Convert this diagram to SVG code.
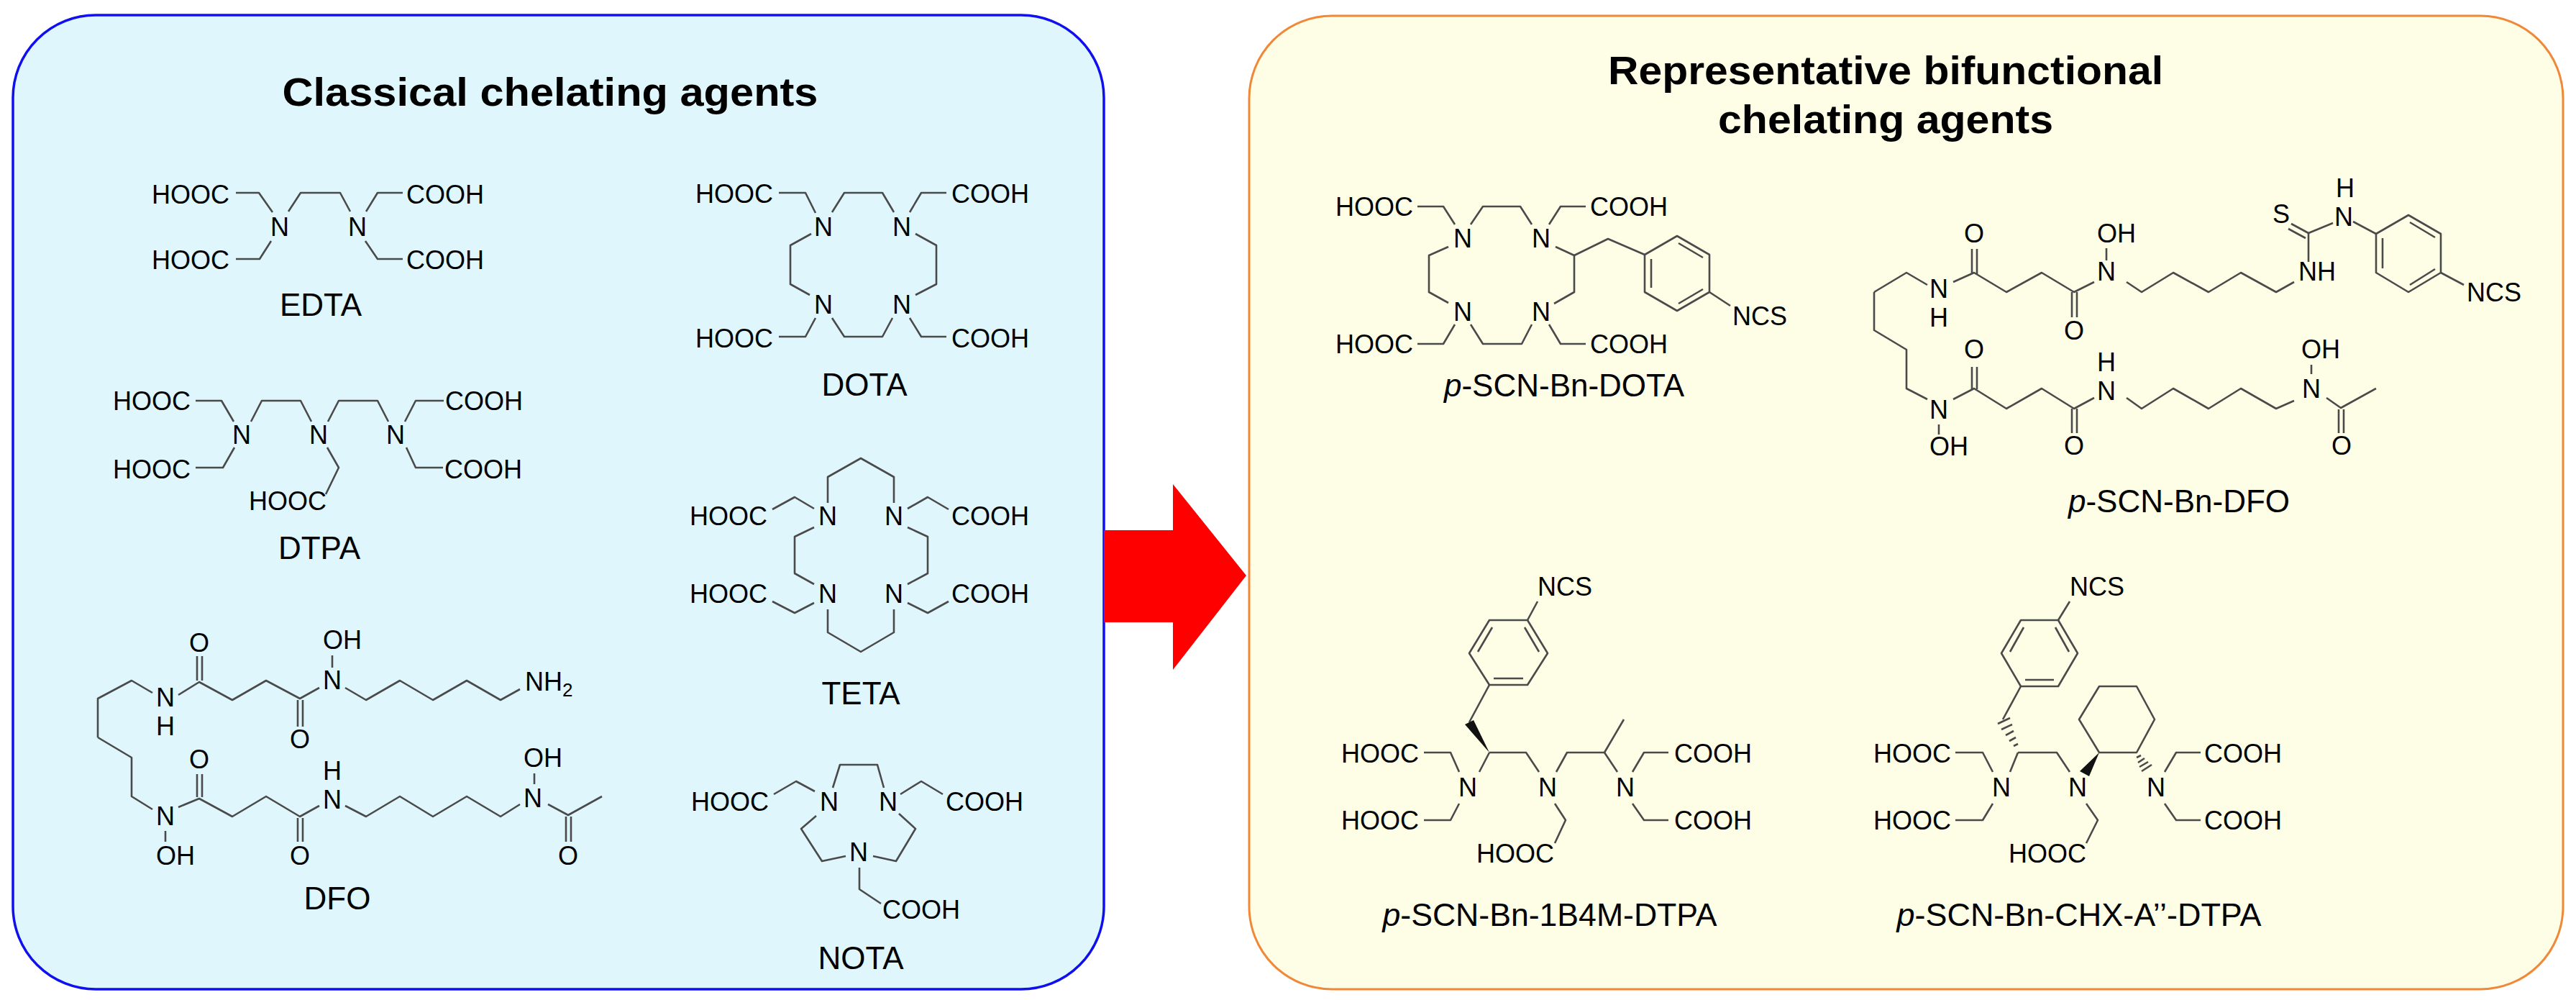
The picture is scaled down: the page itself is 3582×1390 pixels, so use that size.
<svg xmlns="http://www.w3.org/2000/svg" width="3582" height="1390" viewBox="0 0 3582 1390">
<style>
.b{fill:none;stroke:#4a4a4a;stroke-width:2.6;stroke-linejoin:round}
text{font-family:"Liberation Sans",Arial,sans-serif;fill:#000}
.t{font-size:36px}
.m{text-anchor:middle}
.l{font-size:44px;text-anchor:middle}
.h{font-size:56px;font-weight:bold;text-anchor:middle}
.w{fill:#111}
</style>
<rect width="3582" height="1390" fill="#fff"/>
<g id="panel-classical">
<rect x="18" y="21" width="1517" height="1354" rx="115" ry="115" fill="#dff6fc" stroke="#1010ee" stroke-width="3.5"/>
<text class="h" x="765" y="147" textLength="745" lengthAdjust="spacingAndGlyphs">Classical  chelating  agents</text>
</g>
<g id="panel-bifunctional">
<rect x="1737" y="22" width="1827" height="1353" rx="115" ry="115" fill="#fefee6" stroke="#f08838" stroke-width="3"/>
<text class="h" x="2622" y="117" textLength="772" lengthAdjust="spacingAndGlyphs">Representative  bifunctional</text>
<text class="h" x="2622" y="185" textLength="466" lengthAdjust="spacingAndGlyphs">chelating  agents</text>
</g>
<g id="connectors">
<polygon points="1535,737 1631,737 1631,673 1733,800 1631,931 1631,865 1535,865" fill="#ff0000"/>
</g>
<g id="EDTA">
<polyline class="b" points="328,268 360,268 379,295"/>
<polyline class="b" points="401,294 418,268 473,268 487,294"/>
<polyline class="b" points="509,294 525,268 560,268"/>
<polyline class="b" points="328,360 361,360 377,335"/>
<polyline class="b" points="508,335 525,360 560,360"/>
<text class="t" x="211" y="283">HOOC</text><text class="t" x="565" y="283">COOH</text>
<text class="t" x="211" y="374">HOOC</text><text class="t" x="565" y="374">COOH</text>
<text class="t m" x="389" y="328">N</text><text class="t m" x="497" y="328">N</text>
<text class="l" x="446" y="439">EDTA</text>
</g>
<g id="DTPA">
<polyline class="b" points="272,557 308,557 325,586"/>
<polyline class="b" points="349,586 364,557 418,557 433,586"/>
<polyline class="b" points="456,586 471,557 525,557 540,586"/>
<polyline class="b" points="563,586 578,557 617,557"/>
<polyline class="b" points="272,650 310,650 326,622"/>
<polyline class="b" points="455,622 471,650 453,687"/>
<polyline class="b" points="565,622 578,650 616,650"/>
<text class="t" x="157" y="570">HOOC</text><text class="t" x="619" y="570">COOH</text>
<text class="t" x="157" y="665">HOOC</text><text class="t" x="618" y="665">COOH</text>
<text class="t" x="346" y="709">HOOC</text>
<text class="t m" x="336" y="617">N</text><text class="t m" x="443" y="617">N</text><text class="t m" x="550" y="617">N</text>
<text class="l" x="444" y="777">DTPA</text>
</g>
<g id="DFO">
<polyline class="b" points="136,1025 136,971 183,946 212,963"/>
<polyline class="b" points="248,966 277,948 323,973 370,946 417,971 444,956"/>
<polyline class="b" points="480,956 509,973 556,946 602,973 649,946 696,973 723,958"/>
<line class="b" x1="274" y1="946" x2="274" y2="912"/><line class="b" x1="281" y1="946" x2="281" y2="912"/>
<line class="b" x1="414" y1="973" x2="414" y2="1010"/><line class="b" x1="421" y1="973" x2="421" y2="1010"/>
<line class="b" x1="462" y1="911" x2="462" y2="928"/>
<polyline class="b" points="136,1025 183,1053 183,1107 212,1125"/>
<polyline class="b" points="248,1122 277,1110 323,1135 370,1107 417,1135 444,1120"/>
<polyline class="b" points="480,1120 509,1135 556,1107 602,1135 649,1107 696,1135 723,1118"/>
<line class="b" x1="274" y1="1108" x2="274" y2="1076"/><line class="b" x1="281" y1="1108" x2="281" y2="1076"/>
<line class="b" x1="414" y1="1137" x2="414" y2="1170"/><line class="b" x1="421" y1="1137" x2="421" y2="1170"/>
<line class="b" x1="230" y1="1155" x2="230" y2="1170"/>
<line class="b" x1="743" y1="1075" x2="743" y2="1090"/>
<polyline class="b" points="762,1118 790,1133 837,1107"/>
<line class="b" x1="787" y1="1135" x2="787" y2="1170"/><line class="b" x1="794" y1="1135" x2="794" y2="1170"/>
<text class="t m" x="230" y="982">N</text><text class="t m" x="230" y="1022">H</text>
<text class="t m" x="277" y="906">O</text><text class="t m" x="417" y="1040">O</text>
<text class="t m" x="462" y="958">N</text><text class="t" x="449" y="902">OH</text>
<text class="t" x="730" y="960">NH<tspan font-size="26" dy="8">2</tspan></text>
<text class="t m" x="230" y="1147">N</text><text class="t" x="217" y="1202">OH</text>
<text class="t m" x="277" y="1068">O</text><text class="t m" x="417" y="1202">O</text>
<text class="t m" x="462" y="1124">N</text><text class="t m" x="462" y="1084">H</text>
<text class="t m" x="741" y="1122">N</text><text class="t" x="728" y="1066">OH</text>
<text class="t m" x="790" y="1202">O</text>
<text class="l" x="469" y="1264">DFO</text>
</g>
<g id="DOTA">
<polyline class="b" points="1083,268 1120,268 1134,296"/>
<polyline class="b" points="1157,295 1174,268 1227,268 1243,295"/>
<polyline class="b" points="1265,295 1281,268 1316,268"/>
<polyline class="b" points="1128,325 1099,341 1099,395 1126,410"/>
<polyline class="b" points="1273,325 1302,341 1302,395 1273,410"/>
<polyline class="b" points="1157,442 1174,468 1227,468 1241,442"/>
<polyline class="b" points="1134,442 1120,468 1083,468"/>
<polyline class="b" points="1265,442 1281,468 1316,468"/>
<text class="t" x="967" y="282">HOOC</text><text class="t" x="1323" y="282">COOH</text>
<text class="t" x="967" y="483">HOOC</text><text class="t" x="1323" y="483">COOH</text>
<text class="t m" x="1145" y="328">N</text><text class="t m" x="1254" y="328">N</text>
<text class="t m" x="1145" y="436">N</text><text class="t m" x="1254" y="436">N</text>
<text class="l" x="1202" y="550">DOTA</text>
</g>
<g id="TETA">
<polyline class="b" points="1151,699 1151,663 1197,637 1243,663 1243,699"/>
<polyline class="b" points="1074,708 1105,691 1132,707"/>
<polyline class="b" points="1262,707 1290,691 1319,708"/>
<polyline class="b" points="1132,733 1105,746 1105,797 1132,812"/>
<polyline class="b" points="1262,733 1290,746 1290,797 1262,812"/>
<polyline class="b" points="1074,836 1105,852 1132,838"/>
<polyline class="b" points="1262,838 1290,852 1319,836"/>
<polyline class="b" points="1151,847 1151,879 1197,906 1243,879 1243,847"/>
<text class="t" x="959" y="730">HOOC</text><text class="t" x="1323" y="730">COOH</text>
<text class="t" x="959" y="838">HOOC</text><text class="t" x="1323" y="838">COOH</text>
<text class="t m" x="1151" y="730">N</text><text class="t m" x="1243" y="730">N</text>
<text class="t m" x="1151" y="838">N</text><text class="t m" x="1243" y="838">N</text>
<text class="l" x="1197" y="979">TETA</text>
</g>
<g id="NOTA">
<polyline class="b" points="1076,1104 1107,1086 1133,1100"/>
<polyline class="b" points="1158,1095 1168,1063 1220,1063 1229,1095"/>
<polyline class="b" points="1252,1104 1281,1086 1311,1104"/>
<polyline class="b" points="1135,1134 1114,1152 1143,1197 1176,1190"/>
<polyline class="b" points="1250,1131 1273,1152 1246,1197 1214,1190"/>
<polyline class="b" points="1195,1206 1195,1236 1225,1256"/>
<text class="t" x="961" y="1127">HOOC</text><text class="t" x="1315" y="1127">COOH</text>
<text class="t m" x="1153" y="1127">N</text><text class="t m" x="1235" y="1127">N</text>
<text class="t m" x="1194" y="1197">N</text>
<text class="t" x="1227" y="1277">COOH</text>
<text class="l" x="1197" y="1347">NOTA</text>
</g>
<g id="p-SCN-Bn-DOTA">
<polyline class="b" points="1971,287 2007,287 2023,312"/>
<polyline class="b" points="2045,312 2062,287 2114,287 2130,312"/>
<polyline class="b" points="2154,312 2170,287 2205,287"/>
<polyline class="b" points="2014,343 1987,355 1987,406 2014,421"/>
<polyline class="b" points="2163,343 2189,355 2189,406 2161,422"/>
<polyline class="b" points="2189,355 2236,332 2287,354"/>
<polyline class="b" points="2045,451 2062,478 2116,478 2130,451"/>
<polyline class="b" points="2023,451 2007,478 1971,478"/>
<polyline class="b" points="2154,451 2170,478 2205,478"/>
<polygon class="b" points="2332,328 2377,354 2377,406 2332,432 2287,406 2287,354"/>
<line class="b" x1="2296" y1="360" x2="2296" y2="400"/>
<line class="b" x1="2334" y1="338" x2="2368" y2="358"/>
<line class="b" x1="2368" y1="402" x2="2334" y2="422"/>
<line class="b" x1="2377" y1="406" x2="2406" y2="425"/>
<text class="t" x="1857" y="300">HOOC</text><text class="t" x="2211" y="300">COOH</text>
<text class="t" x="1857" y="491">HOOC</text><text class="t" x="2211" y="491">COOH</text>
<text class="t m" x="2034" y="344">N</text><text class="t m" x="2143" y="344">N</text>
<text class="t m" x="2034" y="446">N</text><text class="t m" x="2143" y="446">N</text>
<text class="t" x="2409" y="452" font-size="32">NCS</text>
<text class="l" x="2175" y="551" font-size="42"><tspan font-style="italic">p</tspan>-SCN-Bn-DOTA</text>
</g>
<g id="p-SCN-Bn-DFO">
<polyline class="b" points="2606,406 2651,379 2680,396"/>
<polyline class="b" points="2716,392 2745,379 2790,406 2839,379 2884,406 2912,392"/>
<polyline class="b" points="2957,392 2978,406 3022,379 3071,406 3116,379 3165,406 3190,392"/>
<line class="b" x1="2742" y1="381" x2="2742" y2="346"/><line class="b" x1="2749" y1="381" x2="2749" y2="346"/>
<line class="b" x1="2881" y1="406" x2="2881" y2="441"/><line class="b" x1="2888" y1="406" x2="2888" y2="441"/>
<line class="b" x1="2929" y1="345" x2="2929" y2="362"/>
<line class="b" x1="3210" y1="364" x2="3210" y2="324"/>
<line class="b" x1="3210" y1="324" x2="3186" y2="311"/><line class="b" x1="3206" y1="331" x2="3182" y2="318"/>
<line class="b" x1="3210" y1="324" x2="3244" y2="310"/>
<line class="b" x1="3272" y1="308" x2="3304" y2="325"/>
<polygon class="b" points="3304,325 3349,299 3394,325 3394,379 3349,406 3304,379"/>
<line class="b" x1="3313" y1="331" x2="3313" y2="373"/>
<line class="b" x1="3351" y1="309" x2="3386" y2="330"/>
<line class="b" x1="3386" y1="374" x2="3351" y2="396"/>
<line class="b" x1="3394" y1="379" x2="3426" y2="396"/>
<polyline class="b" points="2606,406 2606,459 2651,486 2651,540 2680,555"/>
<polyline class="b" points="2716,555 2745,540 2790,568 2839,540 2884,568 2912,553"/>
<polyline class="b" points="2957,553 2978,568 3022,540 3071,568 3116,540 3165,568 3190,557"/>
<line class="b" x1="2742" y1="541" x2="2742" y2="510"/><line class="b" x1="2749" y1="541" x2="2749" y2="510"/>
<line class="b" x1="2881" y1="568" x2="2881" y2="602"/><line class="b" x1="2888" y1="568" x2="2888" y2="602"/>
<line class="b" x1="2696" y1="590" x2="2696" y2="604"/>
<line class="b" x1="3214" y1="507" x2="3214" y2="520"/>
<polyline class="b" points="3235,553 3255,567 3304,540"/>
<line class="b" x1="3252" y1="569" x2="3252" y2="602"/><line class="b" x1="3259" y1="569" x2="3259" y2="602"/>
<text class="t m" x="2696" y="414">N</text><text class="t m" x="2696" y="454">H</text>
<text class="t m" x="2745" y="337">O</text><text class="t m" x="2884" y="472">O</text>
<text class="t m" x="2929" y="390">N</text><text class="t" x="2916" y="337">OH</text>
<text class="t" x="3196" y="390">NH</text>
<text class="t" x="3160" y="310">S</text>
<text class="t" x="3246" y="314">N</text><text class="t" x="3248" y="274">H</text>
<text class="t" x="3430" y="419" font-size="32">NCS</text>
<text class="t m" x="2696" y="582">N</text><text class="t" x="2683" y="633">OH</text>
<text class="t m" x="2745" y="498">O</text><text class="t m" x="2884" y="632">O</text>
<text class="t m" x="2929" y="556">N</text><text class="t m" x="2929" y="516">H</text>
<text class="t m" x="3214" y="553">N</text><text class="t" x="3200" y="498">OH</text>
<text class="t m" x="3256" y="632">O</text>
<text class="l" x="3030" y="712" font-size="42"><tspan font-style="italic">p</tspan>-SCN-Bn-DFO</text>
</g>
<g id="p-SCN-Bn-1B4M-DTPA">
<line class="b" x1="2138" y1="836" x2="2124" y2="862"/>
<polygon class="b" points="2124,862 2071,862 2043,908 2071,952 2124,952 2152,908"/>
<line class="b" x1="2075" y1="872" x2="2055" y2="906"/>
<line class="b" x1="2120" y1="872" x2="2140" y2="906"/>
<line class="b" x1="2077" y1="943" x2="2118" y2="943"/>
<line class="b" x1="2071" y1="952" x2="2043" y2="1004"/>
<polygon class="w" points="2071,1046 2037,1007 2049,1001"/>
<line class="b" x1="2071" y1="1046" x2="2057" y2="1073"/>
<polyline class="b" points="2071,1046 2122,1046 2140,1073"/>
<polyline class="b" points="2164,1073 2179,1046 2231,1046 2258,1000"/>
<line class="b" x1="2231" y1="1046" x2="2249" y2="1073"/>
<polyline class="b" points="2270,1073 2286,1046 2320,1046"/>
<polyline class="b" points="2029,1073 2017,1046 1980,1046"/>
<polyline class="b" points="2029,1117 2017,1140 1980,1140"/>
<polyline class="b" points="2162,1117 2177,1140 2162,1172"/>
<polyline class="b" points="2270,1117 2286,1140 2320,1140"/>
<text class="t" x="2138" y="828">NCS</text>
<text class="t" x="1865" y="1060">HOOC</text><text class="t" x="1865" y="1153">HOOC</text>
<text class="t" x="2053" y="1199">HOOC</text>
<text class="t" x="2328" y="1060">COOH</text><text class="t" x="2328" y="1153">COOH</text>
<text class="t m" x="2041" y="1107">N</text><text class="t m" x="2152" y="1107">N</text><text class="t m" x="2260" y="1107">N</text>
<text class="l" x="2155" y="1287" font-size="42" textLength="465" lengthAdjust="spacingAndGlyphs"><tspan font-style="italic">p</tspan>-SCN-Bn-1B4M-DTPA</text>
</g>
<g id="p-SCN-Bn-CHX-A-DTPA">
<line class="b" x1="2878" y1="836" x2="2862" y2="862"/>
<polygon class="b" points="2862,862 2810,862 2783,908 2810,954 2862,954 2889,908"/>
<line class="b" x1="2814" y1="872" x2="2795" y2="906"/>
<line class="b" x1="2858" y1="872" x2="2877" y2="906"/>
<line class="b" x1="2816" y1="945" x2="2856" y2="945"/>
<line class="b" x1="2810" y1="954" x2="2785" y2="1000"/>
<g class="b" stroke-width="2.2">
<line x1="2800" y1="1037" x2="2806" y2="1034"/>
<line x1="2794" y1="1030" x2="2803" y2="1025"/>
<line x1="2789" y1="1022" x2="2800" y2="1016"/>
<line x1="2783" y1="1014" x2="2798" y2="1007"/>
<line x1="2778" y1="1006" x2="2795" y2="998"/>
<line x1="2971" y1="1053" x2="2977" y2="1050"/>
<line x1="2973" y1="1060" x2="2982" y2="1054"/>
<line x1="2975" y1="1066" x2="2987" y2="1059"/>
<line x1="2978" y1="1072" x2="2992" y2="1063"/>
</g>
<line class="b" x1="2806" y1="1046" x2="2795" y2="1073"/>
<polyline class="b" points="2806,1046 2860,1046 2878,1073"/>
<polygon class="w" points="2919,1046 2892,1072 2905,1079"/>
<polygon class="b" points="2919,1046 2971,1046 2996,1000 2971,954 2919,954 2891,1000"/>
<polyline class="b" points="3010,1073 3026,1046 3060,1046"/>
<polyline class="b" points="2771,1073 2757,1046 2719,1046"/>
<polyline class="b" points="2771,1117 2757,1140 2719,1140"/>
<polyline class="b" points="2901,1117 2917,1140 2901,1172"/>
<polyline class="b" points="3010,1117 3026,1140 3060,1140"/>
<text class="t" x="2878" y="828">NCS</text>
<text class="t" x="2605" y="1060">HOOC</text><text class="t" x="2605" y="1153">HOOC</text>
<text class="t" x="2793" y="1199">HOOC</text>
<text class="t" x="3065" y="1060">COOH</text><text class="t" x="3065" y="1153">COOH</text>
<text class="t m" x="2783" y="1107">N</text><text class="t m" x="2889" y="1107">N</text><text class="t m" x="2998" y="1107">N</text>
<text class="l" x="2891" y="1287" font-size="42" textLength="507" lengthAdjust="spacingAndGlyphs"><tspan font-style="italic">p</tspan>-SCN-Bn-CHX-A’’-DTPA</text>
</g>
</svg>
